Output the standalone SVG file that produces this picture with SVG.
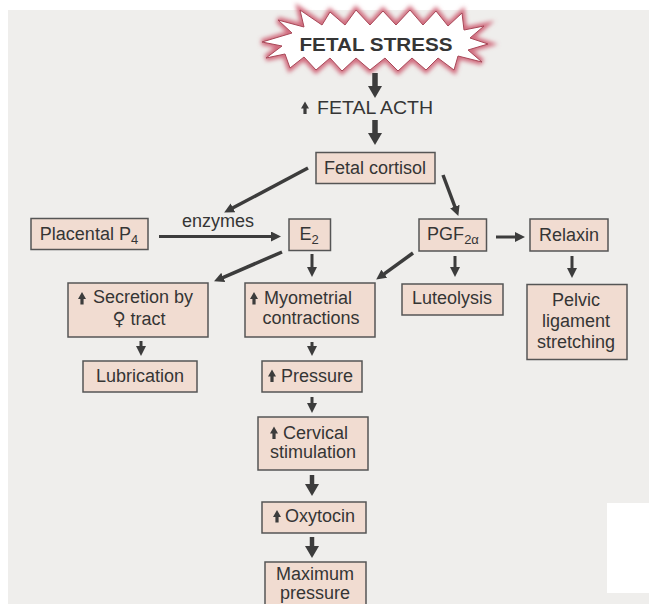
<svg xmlns="http://www.w3.org/2000/svg" xmlns:xlink="http://www.w3.org/1999/xlink" width="649" height="604" viewBox="0 0 649 604">
<style>
.bx{fill:#f1dcd1;stroke:#555;stroke-width:1.5}
.t{font-family:"Liberation Sans",Arial,sans-serif;font-size:18px;fill:#353535}
.m{text-anchor:middle}
.a{fill:none;stroke:#3c3c3c;stroke-width:3;marker-end:url(#ah)}
.ad{fill:none;stroke:#3c3c3c;stroke-width:3.5;marker-end:url(#ah)}
.ab{fill:none;stroke:#3c3c3c;stroke-width:5.5;marker-end:url(#ahb)}
.ic{fill:#3c3c3c}
</style>
<defs>
<marker id="ah" markerUnits="userSpaceOnUse" viewBox="0 -5 10 10" markerWidth="10" markerHeight="10" refX="1" refY="0" orient="auto"><path d="M0,-5 L10,0 L0,5 Z" fill="#3c3c3c"/></marker>
<marker id="ahb" markerUnits="userSpaceOnUse" viewBox="0 -7 12 14" markerWidth="12" markerHeight="14" refX="1" refY="0" orient="auto"><path d="M0,-7 L12,0 L0,7 Z" fill="#3c3c3c"/></marker>
<path id="up" d="M0,-6.5 L4,0.5 L1.6,0.5 L1.6,6 L-1.6,6 L-1.6,0.5 L-4,0.5 Z"/>
<filter id="glow" x="-10%" y="-30%" width="120%" height="160%"><feGaussianBlur stdDeviation="2.2"/></filter>
</defs>
<rect x="0" y="0" width="649" height="604" fill="#ffffff"/>
<rect x="8" y="10" width="641" height="594" fill="#efeeec"/>
<rect x="607" y="503" width="42" height="90" fill="#ffffff"/>

<g id="fetal-stress">
<polygon points="262,42 292,33 278,20 304,27 300,10 322,25 330,12 345,25 356,10 370,25 383,11 396,25 410,10 423,25 436,11 448,26 462,13 464,30 484,26 470,38 488,44 468,50 482,62 458,56 454,70 438,58 426,70 412,58 398,71 385,58 370,70 356,58 342,71 330,58 316,70 304,57 290,68 285,54 266,58 282,46" fill="none" stroke="#d0687a" stroke-width="6" filter="url(#glow)"/>
<polygon points="262,42 292,33 278,20 304,27 300,10 322,25 330,12 345,25 356,10 370,25 383,11 396,25 410,10 423,25 436,11 448,26 462,13 464,30 484,26 470,38 488,44 468,50 482,62 458,56 454,70 438,58 426,70 412,58 398,71 385,58 370,70 356,58 342,71 330,58 316,70 304,57 290,68 285,54 266,58 282,46" fill="#ffffff" stroke="#a84858" stroke-width="1"/>
<text class="t m" x="376" y="51" font-size="22" font-weight="bold" textLength="153" lengthAdjust="spacingAndGlyphs">FETAL STRESS</text>
</g>

<g id="fetal-acth">
<use xlink:href="#up" href="#up" class="ic" transform="translate(305,108)"/>
<text class="t" x="317" y="114" font-size="18.5" textLength="116" lengthAdjust="spacingAndGlyphs">FETAL ACTH</text>
</g>

<g id="fetal-cortisol">
<rect class="bx" x="316" y="152.5" width="119" height="31"/>
<text class="t m" x="375" y="174">Fetal cortisol</text>
</g>

<g id="placental-p4">
<rect class="bx" x="31" y="218.5" width="117" height="31"/>
<text class="t m" x="89" y="240">Placental P<tspan font-size="13" dy="4">4</tspan></text>
</g>

<g id="enzymes-label">
<text class="t m" x="218" y="227" font-size="17">enzymes</text>
</g>

<g id="e2">
<rect class="bx" x="289" y="219" width="41.5" height="31.5"/>
<text class="t m" x="309" y="240">E<tspan font-size="13" dy="4">2</tspan></text>
</g>

<g id="pgf2a">
<rect class="bx" x="419" y="219" width="67.5" height="32"/>
<text class="t m" x="453" y="240">PGF<tspan font-size="13" dy="4">2α</tspan></text>
</g>

<g id="relaxin">
<rect class="bx" x="530" y="219" width="78" height="32"/>
<text class="t m" x="569" y="241">Relaxin</text>
</g>

<g id="secretion">
<rect class="bx" x="68" y="283" width="140" height="54"/>
<use xlink:href="#up" href="#up" class="ic" transform="translate(82,298.5)"/>
<text class="t" x="93" y="303">Secretion by</text>
<text class="t m" x="139" y="325"><tspan font-family="DejaVu Sans" font-size="18">♀</tspan> tract</text>
</g>

<g id="myometrial">
<rect class="bx" x="245" y="283" width="130" height="54"/>
<use xlink:href="#up" href="#up" class="ic" transform="translate(254,298.5)"/>
<text class="t" x="264" y="304">Myometrial</text>
<text class="t m" x="311" y="324">contractions</text>
</g>

<g id="luteolysis">
<rect class="bx" x="402" y="284" width="101" height="31"/>
<text class="t m" x="452" y="304">Luteolysis</text>
</g>

<g id="pelvic">
<rect class="bx" x="527" y="284.5" width="100" height="75"/>
<text class="t m" x="576" y="306">Pelvic</text>
<text class="t m" x="576" y="327">ligament</text>
<text class="t m" x="576" y="348">stretching</text>
</g>

<g id="lubrication">
<rect class="bx" x="83" y="361" width="114" height="31"/>
<text class="t m" x="140" y="382">Lubrication</text>
</g>

<g id="pressure">
<rect class="bx" x="262" y="361" width="100" height="31"/>
<use xlink:href="#up" href="#up" class="ic" transform="translate(272,376)"/>
<text class="t" x="281" y="382">Pressure</text>
</g>

<g id="cervical">
<rect class="bx" x="258" y="417" width="110" height="53"/>
<use xlink:href="#up" href="#up" class="ic" transform="translate(274,433)"/>
<text class="t" x="283" y="439">Cervical</text>
<text class="t m" x="313" y="458">stimulation</text>
</g>

<g id="oxytocin">
<rect class="bx" x="262" y="502" width="104" height="31"/>
<use xlink:href="#up" href="#up" class="ic" transform="translate(277,516.5)"/>
<text class="t" x="285" y="522">Oxytocin</text>
</g>

<g id="maximum-pressure">
<rect class="bx" x="265" y="562" width="101" height="50"/>
<text class="t m" x="315" y="580" font-size="16.5">Maximum</text>
<text class="t m" x="315" y="599" font-size="16.5">pressure</text>
</g>

<g id="connectors">
<path class="ab" d="M375,73 L375,87"/>
<path class="ab" d="M375,120 L375,134"/>
<path class="ad" d="M308,168 L232.1,208.3"/>
<path class="a" d="M159,236.5 L272,236.5"/>
<path class="ad" d="M443,175 L455.2,207.5"/>
<path class="a" d="M496,237 L516,237"/>
<path class="ad" d="M282,252 L222.3,277.8"/>
<path class="a" d="M312,254 L312,268"/>
<path class="ad" d="M413,253 L383.5,274.3"/>
<path class="a" d="M455,256 L455,268"/>
<path class="a" d="M572,256 L572,269"/>
<path class="a" d="M141,341 L141,347"/>
<path class="a" d="M312,342 L312,347"/>
<path class="a" d="M312,397 L312,404"/>
<path class="ab" d="M312,475 L312,485" style="stroke-width:4.5"/>
<path class="ab" d="M312,537 L312,547" style="stroke-width:4.5"/>
</g>
</svg>
